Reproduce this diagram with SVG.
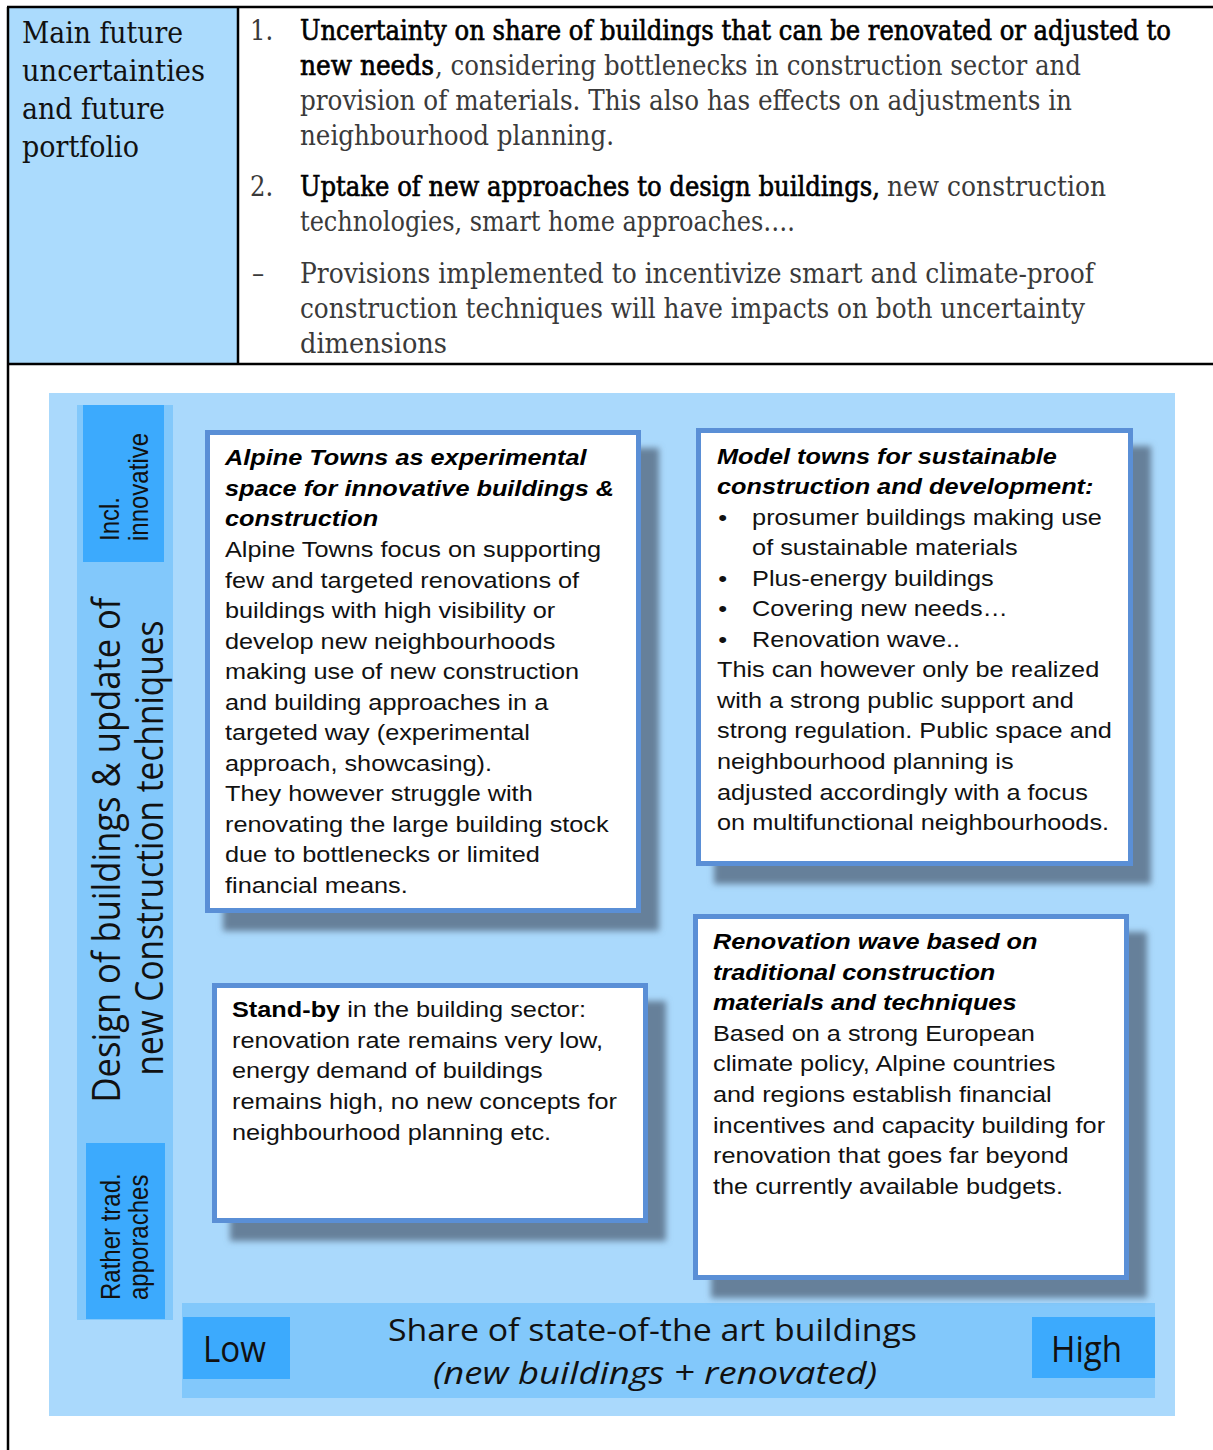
<svg xmlns="http://www.w3.org/2000/svg" width="1213" height="1450" viewBox="0 0 1213 1450">
<style>
.hdr{font-family:"DejaVu Serif","Liberation Serif",serif;font-stretch:condensed;font-size:27px;fill:#3a3a3a}
.hdrL{font-family:"DejaVu Serif","Liberation Serif",serif;font-stretch:condensed;font-size:30px;fill:#111}
.b{fill:#000;stroke:#000;stroke-width:0.6}
.line{stroke:#000;stroke-width:2.5;fill:none}
.box{fill:#fff;stroke:#5a8fd6;stroke-width:5}
.shadow{fill:#66809a;filter:url(#blur)}
.bt{font-family:"Liberation Sans",Arial,sans-serif;font-size:22px;fill:#111}
.bi{font-weight:bold;font-style:italic;fill:#000}
.lab{font-family:"Liberation Sans",Arial,sans-serif;font-size:24px;fill:#111}
.ax{font-family:"Open Sans","Noto Sans",sans-serif;fill:#111}
</style>
<defs>
<filter id="blur" x="-10%" y="-10%" width="120%" height="120%"><feGaussianBlur stdDeviation="3"/></filter>
</defs>
<rect width="1213" height="1450" fill="#fff"/>

<g id="header">
<rect x="9" y="8" width="229" height="356" fill="#abdbfd"/>
<text class="hdrL" x="22" y="43" textLength="161" lengthAdjust="spacingAndGlyphs">Main future</text>
<text class="hdrL" x="22" y="81" textLength="183" lengthAdjust="spacingAndGlyphs">uncertainties</text>
<text class="hdrL" x="22" y="119" textLength="143" lengthAdjust="spacingAndGlyphs">and future</text>
<text class="hdrL" x="22" y="157" textLength="117" lengthAdjust="spacingAndGlyphs">portfolio</text>

<text class="hdr" x="250" y="40" fill="#111">1.</text>
<text class="hdr b" x="300" y="40" textLength="871" lengthAdjust="spacingAndGlyphs">Uncertainty on share of buildings that can be renovated or adjusted to</text>
<text class="hdr b" x="300" y="75" textLength="134" lengthAdjust="spacingAndGlyphs">new needs</text>
<text class="hdr" x="435" y="75" textLength="646" lengthAdjust="spacingAndGlyphs">, considering bottlenecks in construction sector and</text>
<text class="hdr" x="300" y="110" textLength="772" lengthAdjust="spacingAndGlyphs">provision of materials. This also has effects on adjustments in</text>
<text class="hdr" x="300" y="145" textLength="314" lengthAdjust="spacingAndGlyphs">neighbourhood planning.</text>
<text class="hdr" x="250" y="196" fill="#111">2.</text>
<text class="hdr b" x="300" y="196" textLength="580" lengthAdjust="spacingAndGlyphs">Uptake of new approaches to design buildings,</text>
<text class="hdr" x="887" y="196" textLength="219" lengthAdjust="spacingAndGlyphs">new construction</text>
<text class="hdr" x="300" y="231" textLength="495" lengthAdjust="spacingAndGlyphs">technologies, smart home approaches….</text>
<text class="hdr" x="252" y="283">–</text>
<text class="hdr" x="300" y="283" textLength="794" lengthAdjust="spacingAndGlyphs">Provisions implemented to incentivize smart and climate-proof</text>
<text class="hdr" x="300" y="318" textLength="785" lengthAdjust="spacingAndGlyphs">construction techniques will have impacts on both uncertainty</text>
<text class="hdr" x="300" y="353" textLength="147" lengthAdjust="spacingAndGlyphs">dimensions</text>

<line class="line" x1="7" y1="7" x2="1213" y2="7"/>
<line class="line" x1="8" y1="7" x2="8" y2="1450"/>
<line class="line" x1="238" y1="7" x2="238" y2="364"/>
<line class="line" x1="8" y1="364" x2="1213" y2="364"/>
</g>

<g id="background">
<rect x="49" y="393" width="1126" height="1023" fill="#aad9fc"/>
</g>

<g id="y-axis">
<rect x="77" y="405" width="96" height="915" fill="#82c8fb"/>
<text class="ax" font-size="34" text-anchor="middle" transform="translate(120 850) scale(1.15 1) rotate(-90)" textLength="505" lengthAdjust="spacingAndGlyphs">Design of buildings &amp; update of</text>
<text class="ax" font-size="34" text-anchor="middle" transform="translate(163 848) scale(1.15 1) rotate(-90)" textLength="455" lengthAdjust="spacingAndGlyphs">new Construction techniques</text>
</g>

<g id="label-innovative">
<rect x="83" y="405" width="81" height="157" fill="#3caafd"/>
<text class="lab" transform="translate(119 541) scale(1.15 1) rotate(-90)">Incl.</text>
<text class="lab" transform="translate(148 541) scale(1.15 1) rotate(-90)">innovative</text>
</g>

<g id="label-traditional">
<rect x="86" y="1143" width="79" height="176" fill="#3caafd"/>
<text class="lab" transform="translate(120 1300) scale(1.15 1) rotate(-90)">Rather trad.</text>
<text class="lab" transform="translate(148 1300) scale(1.15 1) rotate(-90)">apporaches</text>
</g>

<g id="x-axis">
<rect x="182" y="1303" width="973" height="95" fill="#82c8fb"/>
<text class="ax" font-size="31" x="388" y="1341" textLength="529" lengthAdjust="spacingAndGlyphs">Share of state-of-the art buildings</text>
<text class="ax" font-size="31" font-style="italic" x="433" y="1384" textLength="444" lengthAdjust="spacingAndGlyphs">(new buildings + renovated)</text>
</g>

<g id="label-low">
<rect x="183" y="1317" width="107" height="62" fill="#3caafd"/>
<text class="ax" font-size="36" x="203" y="1362" textLength="63" lengthAdjust="spacingAndGlyphs">Low</text>
</g>

<g id="label-high">
<rect x="1032" y="1317" width="123" height="61" fill="#3caafd"/>
<text class="ax" font-size="36" x="1051" y="1362" textLength="71" lengthAdjust="spacingAndGlyphs">High</text>
</g>

<g id="box-alpine-towns">
<rect class="shadow" x="223" y="448" width="436" height="483"/>
<rect class="box" x="207.5" y="432.5" width="431" height="478"/>
<g transform="translate(225 0) scale(1.15 1)">
<text class="bt">
<tspan class="bi" x="0" y="465">Alpine Towns as experimental</tspan>
<tspan class="bi" x="0" y="496">space for innovative buildings &amp;</tspan>
<tspan class="bi" x="0" y="526">construction</tspan>
<tspan x="0" y="557">Alpine Towns focus on supporting</tspan>
<tspan x="0" y="588">few and targeted renovations of</tspan>
<tspan x="0" y="618">buildings with high visibility or</tspan>
<tspan x="0" y="649">develop new neighbourhoods</tspan>
<tspan x="0" y="679">making use of new construction</tspan>
<tspan x="0" y="710">and building approaches in a</tspan>
<tspan x="0" y="740">targeted way (experimental</tspan>
<tspan x="0" y="771">approach, showcasing).</tspan>
<tspan x="0" y="801">They however struggle with</tspan>
<tspan x="0" y="832">renovating the large building stock</tspan>
<tspan x="0" y="862">due to bottlenecks or limited</tspan>
<tspan x="0" y="893">financial means.</tspan>
</text>
</g>
</g>

<g id="box-model-towns">
<rect class="shadow" x="714" y="446" width="437" height="438"/>
<rect class="box" x="698.5" y="430.5" width="432" height="433"/>
<g transform="translate(717 0) scale(1.15 1)">
<text class="bt">
<tspan class="bi" x="0" y="464">Model towns for sustainable</tspan>
<tspan class="bi" x="0" y="494">construction and development:</tspan>
<tspan x="1" y="525">•</tspan><tspan x="30.5" y="525">prosumer buildings making use</tspan>
<tspan x="30.5" y="555">of sustainable materials</tspan>
<tspan x="1" y="586">•</tspan><tspan x="30.5" y="586">Plus-energy buildings</tspan>
<tspan x="1" y="616">•</tspan><tspan x="30.5" y="616">Covering new needs…</tspan>
<tspan x="1" y="647">•</tspan><tspan x="30.5" y="647">Renovation wave..</tspan>
<tspan x="0" y="677">This can however only be realized</tspan>
<tspan x="0" y="708">with a strong public support and</tspan>
<tspan x="0" y="738">strong regulation. Public space and</tspan>
<tspan x="0" y="769">neighbourhood planning is</tspan>
<tspan x="0" y="800">adjusted accordingly with a focus</tspan>
<tspan x="0" y="830">on multifunctional neighbourhoods.</tspan>
</text>
</g>
</g>

<g id="box-stand-by">
<rect class="shadow" x="230" y="1001" width="436" height="240"/>
<rect class="box" x="214.5" y="985.5" width="431" height="235"/>
<g transform="translate(232 0) scale(1.15 1)">
<text class="bt">
<tspan x="0" y="1017"><tspan font-weight="bold" fill="#000">Stand-by</tspan> in the building sector:</tspan>
<tspan x="0" y="1048">renovation rate remains very low,</tspan>
<tspan x="0" y="1078">energy demand of buildings</tspan>
<tspan x="0" y="1109">remains high, no new concepts for</tspan>
<tspan x="0" y="1140">neighbourhood planning etc.</tspan>
</text>
</g>
</g>

<g id="box-renovation-wave">
<rect class="shadow" x="711" y="932" width="436" height="366"/>
<rect class="box" x="695.5" y="916.5" width="431" height="361"/>
<g transform="translate(713 0) scale(1.15 1)">
<text class="bt">
<tspan class="bi" x="0" y="949">Renovation wave based on</tspan>
<tspan class="bi" x="0" y="980">traditional construction</tspan>
<tspan class="bi" x="0" y="1010">materials and techniques</tspan>
<tspan x="0" y="1041">Based on a strong European</tspan>
<tspan x="0" y="1071">climate policy, Alpine countries</tspan>
<tspan x="0" y="1102">and regions establish financial</tspan>
<tspan x="0" y="1133">incentives and capacity building for</tspan>
<tspan x="0" y="1163">renovation that goes far beyond</tspan>
<tspan x="0" y="1194">the currently available budgets.</tspan>
</text>
</g>
</g>

<g id="connectors"></g>
</svg>
